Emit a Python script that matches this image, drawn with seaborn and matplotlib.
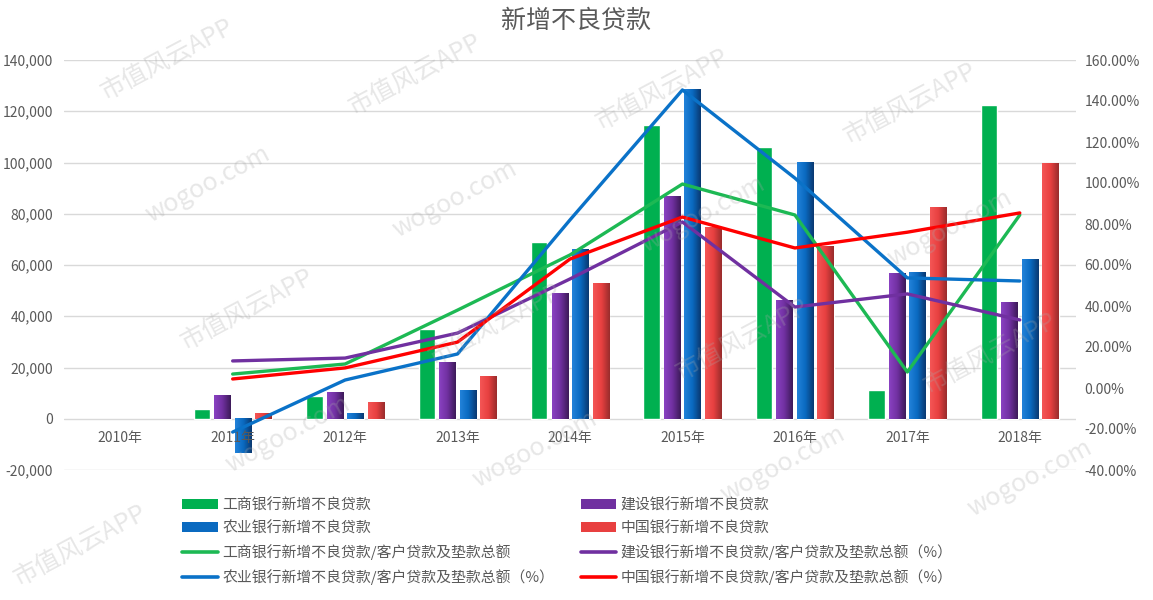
import numpy as np
import pandas as pd
import matplotlib
matplotlib.use("Agg")
import matplotlib.pyplot as plt
import seaborn as sns
from matplotlib.patches import Patch
from matplotlib.lines import Line2D
from matplotlib.colors import LinearSegmentedColormap

# ---------------- data ----------------
years = ['2010年', '2011年', '2012年', '2013年', '2014年', '2015年', '2016年', '2017年', '2018年']

bar_names = ['工商银行新增不良贷款', '建设银行新增不良贷款', '农业银行新增不良贷款', '中国银行新增不良贷款']
icbc_new = [np.nan, 4000, 9000, 35200, 68800, 114800, 105900, 11300, 122300]
ccb_new = [np.nan, 9000, 10200, 21900, 48800, 86700, 46100, 56600, 45300]
abc_new = [np.nan, -13300, 2300, 11300, 66000, 128500, 100000, 57000, 62100]
boc_new = [np.nan, 2300, 6250, 16400, 52700, 74600, 67200, 82400, 99600]

line_names = ['工商银行新增不良贷款/客户贷款及垫款总额',
              '建设银行新增不良贷款/客户贷款及垫款总额（%）',
              '农业银行新增不良贷款/客户贷款及垫款总额（%）',
              '中国银行新增不良贷款/客户贷款及垫款总额（%）']
icbc_ratio = [np.nan, 6.8, 11.7, 38.0, 64.9, 99.5, 84.4, 7.8, 84.4]
ccb_ratio = [np.nan, 13.2, 14.6, 26.8, 53.2, 81.0, 39.5, 45.9, 33.2]
abc_ratio = [np.nan, -21.5, 3.9, 16.6, 82.0, 145.4, 102.4, 53.7, 52.2]
boc_ratio = [np.nan, 4.4, 9.8, 22.4, 62.9, 83.4, 68.3, 76.0, 85.4]

left_ticks = [-20000, 0, 20000, 40000, 60000, 80000, 100000, 120000, 140000]
right_ticks = [-40, -20, 0, 20, 40, 60, 80, 100, 120, 140, 160]

title = '新增不良贷款'

# ---------------- styling ----------------
bar_colors = ['#00B050', '#7030A0', '#0A6AC0', '#E84040']
grad_stops = {
    1: ['#8A42C2', '#7030A0', '#3C1A58'],
    2: ['#2282DA', '#0A6AC0', '#0A3870'],
    3: ['#F45656', '#E84040', '#982C2C'],
}
line_colors = ['#1DB954', '#7030A0', '#0A72C8', '#FF0000']
text_gray = '#595959'

sns.set_theme(style='white')
plt.rcParams['font.family'] = ['Noto Sans CJK SC', 'DejaVu Sans']
plt.rcParams['axes.unicode_minus'] = False

fig = plt.figure(figsize=(11.53, 6.0), dpi=100)
ax = fig.add_axes([64 / 1153, 1 - 470 / 600, (1076 - 64) / 1153, (470 - 60) / 600])

bars_df = pd.DataFrame({
    '年份': years * 4,
    '系列': sum([[n] * len(years) for n in bar_names], []),
    '值': icbc_new + ccb_new + abc_new + boc_new,
})
sns.barplot(data=bars_df, x='年份', y='值', hue='系列', order=years, hue_order=bar_names,
            palette=bar_colors, width=0.73, gap=0.2, saturation=1, legend=False,
            errorbar=None, ax=ax)

# gradient fill on the shaded bar series
for ci, cont in enumerate(ax.containers):
    if ci not in grad_stops:
        continue
    cmap = LinearSegmentedColormap.from_list('g%d' % ci, grad_stops[ci])
    grad = np.linspace(0, 1, 64).reshape(1, -1)
    for p in cont.patches:
        x0, y0 = p.get_x(), p.get_y()
        w, h = p.get_width(), p.get_height()
        if not np.isfinite(h) or h == 0:
            continue
        ax.imshow(grad, cmap=cmap, extent=[x0, x0 + w, y0, y0 + h], aspect='auto',
                  interpolation='bicubic', zorder=p.get_zorder() + 0.1)

ax.set_xlim(-0.5, len(years) - 0.5)
ax.set_ylim(left_ticks[0], left_ticks[-1])
ax.set_aspect('auto')
ax.set_yticks(left_ticks)
ax.set_yticklabels([f'{v:,}' for v in left_ticks])
ax.set_xticks([])
ax.set_xlabel('')
ax.set_ylabel('')
ax.yaxis.grid(True, color='#D9D9D9', linewidth=1)
ax.set_axisbelow(True)
ax.tick_params(axis='y', length=0, pad=8, labelsize=10, labelcolor=text_gray)
for s in ax.spines.values():
    s.set_visible(False)

for i, y in enumerate(years):
    ax.text(i, -7400, y, ha='center', va='center', fontsize=10, color=text_gray, zorder=5)

# ---------------- ratio lines ----------------
ax2 = ax.twinx()
lines_df = pd.DataFrame({
    'pos': list(range(len(years))) * 4,
    '系列': sum([[n] * len(years) for n in line_names], []),
    '比例': icbc_ratio + ccb_ratio + abc_ratio + boc_ratio,
}).dropna()
sns.lineplot(data=lines_df, x='pos', y='比例', hue='系列', hue_order=line_names,
             palette=line_colors, linewidth=2.4, legend=False, ax=ax2, sort=True)
ax2.set_xlim(-0.5, len(years) - 0.5)
ax2.set_ylim(right_ticks[0], right_ticks[-1])
ax2.set_yticks(right_ticks)
ax2.set_yticklabels([f'{v:.2f}%' for v in right_ticks])
ax2.set_ylabel('')
ax2.set_xlabel('')
ax2.grid(False)
ax2.tick_params(axis='y', length=0, pad=6, labelsize=10, labelcolor=text_gray)
for s in ax2.spines.values():
    s.set_visible(False)

fig.text(0.5, 1 - 21 / 600, title, ha='center', va='center', fontsize=18, color=text_gray)

# ---------------- legend ----------------
bar_handles = [Patch(facecolor=c, edgecolor='none') for c in bar_colors]
line_handles = [Line2D([0], [0], color=c, linewidth=2.6) for c in line_colors]
handles = [bar_handles[0], bar_handles[2], line_handles[0], line_handles[2],
           bar_handles[1], bar_handles[3], line_handles[1], line_handles[3]]
labels = [bar_names[0], bar_names[2], line_names[0], line_names[2],
          bar_names[1], bar_names[3], line_names[1], line_names[3]]
fig.legend(handles, labels, loc='upper left', bbox_to_anchor=(176 / 1153, 1 - 492 / 600),
           ncol=2, frameon=False, fontsize=10.7, handlelength=2.4, handletextpad=0.3,
           labelspacing=0.6, columnspacing=1.8, labelcolor=text_gray, borderaxespad=0)

# ---------------- watermark ----------------
wm_texts = ['wogoo.com', '市值风云APP']
ang = np.deg2rad(28)
v1 = np.array([235 * np.cos(ang), 235 * np.sin(ang)])
v2 = np.array([-40, 125])
for i in range(-6, 14):
    for j in range(-8, 10):
        px, py = np.array([40, 180]) + i * v1 + j * v2
        if 75 < px < 1080 and 45 < py < 560:
            fig.text(px / 1153, py / 600, wm_texts[(i + j) % 2], rotation=28,
                     ha='center', va='center', fontsize=18, color='#A8A8A8',
                     alpha=0.28, zorder=10)

fig.savefig('out.png', dpi=100)
